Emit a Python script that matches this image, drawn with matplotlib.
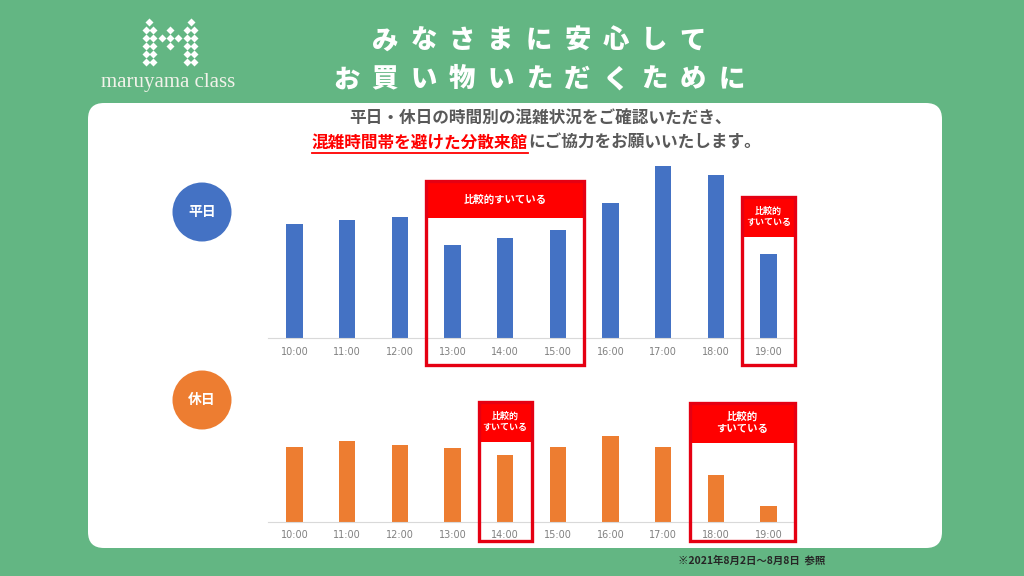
import matplotlib.pyplot as plt
from matplotlib.patches import FancyBboxPatch, Circle, Rectangle

plt.rcParams['font.family'] = ['Noto Sans CJK JP', 'DejaVu Sans']

# data (bar heights, arbitrary units)
hours = ['10:00', '11:00', '12:00', '13:00', '14:00', '15:00', '16:00', '17:00', '18:00', '19:00']
weekday = [114, 118, 121, 93, 100, 108, 135, 172, 163, 84]
weekend = [75, 81, 77, 74, 67, 75, 86, 75, 47, 16]

# quiet time ranges (first, last hour)
weekday_quiet = [('13:00', '15:00'), ('19:00', '19:00')]
weekend_quiet = [('14:00', '14:00'), ('18:00', '19:00')]

title_lines = ['みなさまに安心して', 'お買い物いただくために']
sub_line1 = '平日・休日の時間別の混雑状況をご確認いただき、'
sub_red = '混雑時間帯を避けた分散来館'
sub_grey = 'にご協力をお願いいたします。'
quiet_label = '比較的すいている'
note = '※2021年8月2日〜8月8日  参照'

GREEN = '#63B683'
BLUE = '#4472C4'
ORANGE = '#ED7D31'
RED = '#FF0000'
W, H = 1024, 576

fig = plt.figure(figsize=(W / 100, H / 100), dpi=100, facecolor=GREEN)

# full-figure pixel axes for decoration
bg = fig.add_axes([0, 0, 1, 1], zorder=0)
bg.set_xlim(0, W)
bg.set_ylim(H, 0)
bg.axis('off')

bg.add_patch(FancyBboxPatch((88, 103), 854, 445, boxstyle='round,pad=0,rounding_size=16',
                            facecolor='white', edgecolor='none'))

# logo: dotted "M"
rows = [22, 30, 38, 46, 54, 62]
for i, yy in enumerate(rows):
    xs = [149] if i == 0 else [146, 153]
    xs += [191] if i == 0 else [187, 194]
    bg.plot(xs, [yy] * len(xs), 'D', color='white', ms=4.2, mec='none')
bg.plot([170, 162, 170, 178, 170], [30, 38, 38, 38, 46], 'D', color='white', ms=4.2, mec='none')
bg.text(168, 82, 'maruyama class', family='Liberation Serif', fontsize=15,
        color='#F2F2EA', ha='center', va='center')

# title with wide letter spacing
step = 38.5
for yy, line in zip([40, 79], title_lines):
    n = len(line)
    for i, ch in enumerate(line):
        bg.text(539 + (i - (n - 1) / 2) * step, yy, ch, fontsize=19, fontweight='heavy',
                color='white', ha='center', va='center')

# subtitle
bg.text(540, 118, sub_line1, fontsize=12, fontweight='bold', color='#595959',
        ha='center', va='center')
t_red = bg.text(312, 143, sub_red, fontsize=12, fontweight='bold', color=RED,
                ha='left', va='center')
fig.canvas.draw()
ext = t_red.get_window_extent().transformed(bg.transData.inverted())
x0, x1 = sorted([ext.x0, ext.x1])
bg.plot([x0, x1], [153, 153], color=RED, lw=1.3)
bg.text(x1, 143, sub_grey, fontsize=12, fontweight='bold', color='#595959',
        ha='left', va='center')

# round labels
for cy, col, lab in [(212, BLUE, '平日'), (400, ORANGE, '休日')]:
    bg.add_patch(Circle((202, cy), 29.5, facecolor=col, edgecolor='none'))
    bg.text(202, cy, lab, fontsize=10, fontweight='bold', color='white',
            ha='center', va='center')

bg.text(752, 560, note, fontsize=7.5, fontweight='bold', color='#262626',
        ha='center', va='center')


def px_axes(left, top, right, bottom):
    return fig.add_axes([left / W, 1 - bottom / H, (right - left) / W, (bottom - top) / H], zorder=2)


def bar_panel(ax, values, color, ymax, pad):
    x = range(len(hours))
    ax.bar(x, values, width=0.31, color=color, zorder=2)
    ax.set_xlim(-0.5, len(hours) - 0.5)
    ax.set_ylim(0, ymax)
    ax.set_xticks(list(x))
    ax.set_xticklabels(hours, family='DejaVu Sans', fontsize=7, color='#808080')
    ax.tick_params(axis='x', length=0, pad=pad)
    ax.set_yticks([])
    for s in ['top', 'left', 'right']:
        ax.spines[s].set_visible(False)
    ax.spines['bottom'].set_color('#D9D9D9')
    ax.spines['bottom'].set_linewidth(0.8)
    ax.patch.set_alpha(0)


def quiet_box(ax, first, last, bottom, top, head, fs, two_lines):
    a = hours.index(first) - 0.5
    b = hours.index(last) + 0.5
    ax.add_patch(Rectangle((a, top - head), b - a, head, facecolor=RED, edgecolor='none',
                           clip_on=False, zorder=3))
    ax.add_patch(Rectangle((a, bottom), b - a, top - bottom, fill=False, edgecolor='#E50012',
                           lw=2.4, clip_on=False, zorder=4))
    lab = quiet_label[:3] + '\n' + quiet_label[3:] if two_lines else quiet_label
    ax.text((a + b) / 2, top - head / 2, lab, fontsize=fs, fontweight='bold', color='white',
            ha='center', va='center', linespacing=1.25, zorder=5)


ax1 = px_axes(268, 158, 795, 338)
bar_panel(ax1, weekday, BLUE, 180, 6.5)
quiet_box(ax1, *weekday_quiet[0], bottom=-27, top=157, head=37, fs=7.5, two_lines=False)
quiet_box(ax1, *weekday_quiet[1], bottom=-27, top=141, head=40, fs=6.5, two_lines=True)

ax2 = px_axes(268, 422, 795, 522)
bar_panel(ax2, weekend, ORANGE, 100, 6)
quiet_box(ax2, *weekend_quiet[0], bottom=-19, top=120, head=40, fs=6.5, two_lines=True)
quiet_box(ax2, *weekend_quiet[1], bottom=-19, top=119, head=40, fs=7.5, two_lines=True)

fig.savefig('out.png', dpi=100, facecolor=GREEN)
